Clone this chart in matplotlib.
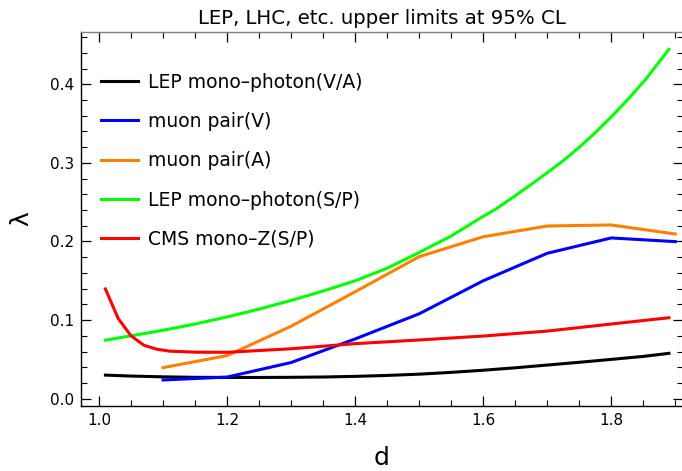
import numpy as np
import matplotlib
matplotlib.use("Agg")
import matplotlib.pyplot as plt
from matplotlib.ticker import MultipleLocator

# --- data ---
d_va = [1.01, 1.05, 1.1, 1.15, 1.2, 1.25, 1.3, 1.35, 1.4, 1.45,
        1.5, 1.55, 1.6, 1.65, 1.7, 1.75, 1.8, 1.85, 1.89]
lep_va = [0.0300, 0.0288, 0.0278, 0.0272, 0.0270, 0.0270, 0.0272, 0.0276, 0.0284, 0.0296,
          0.0312, 0.0335, 0.0362, 0.0393, 0.0428, 0.0463, 0.0500, 0.0538, 0.0577]

d_sp = [1.01, 1.05, 1.1, 1.15, 1.2, 1.25, 1.3, 1.35, 1.4, 1.45, 1.5, 1.55,
        1.595, 1.621, 1.647, 1.673, 1.699, 1.725, 1.751, 1.777, 1.803, 1.829, 1.855, 1.89]
lep_sp = [0.0745, 0.080, 0.087, 0.095, 0.104, 0.114, 0.125, 0.137, 0.150, 0.166, 0.186, 0.207,
          0.2295, 0.242, 0.2565, 0.2715, 0.2868, 0.3028, 0.3206, 0.340, 0.361, 0.3835, 0.4076, 0.4445]

d_muon = [1.1, 1.2, 1.3, 1.4, 1.5, 1.6, 1.7, 1.8, 1.9]
muon_v = [0.0238, 0.0275, 0.046, 0.076, 0.108, 0.150, 0.185, 0.2045, 0.1998]
muon_a = [0.0395, 0.0548, 0.0922, 0.136, 0.1807, 0.206, 0.2197, 0.221, 0.2095]

d_cms = [1.01, 1.03, 1.05, 1.07, 1.09, 1.11, 1.15, 1.2, 1.3, 1.4, 1.5, 1.6, 1.7, 1.8, 1.89]
cms_sp = [0.1396, 0.102, 0.080, 0.068, 0.063, 0.0605, 0.0592, 0.059, 0.0635, 0.070,
          0.0747, 0.0797, 0.086, 0.095, 0.103]

labels = ["LEP mono\u2013photon(V/A)", "muon pair(V)", "muon pair(A)",
          "LEP mono\u2013photon(S/P)", "CMS mono\u2013Z(S/P)"]
colors = ["black", "#0000ff", "#ff8000", "#00ff00", "#ff0000"]

fig = plt.figure(figsize=(6.82, 4.71), dpi=100)
ax = fig.add_axes([81 / 682, 1 - 406 / 471, 602 / 682, 374 / 471])

lw = 2.2
ax.plot(d_va, lep_va, color=colors[0], lw=lw, label=labels[0])
ax.plot(d_muon, muon_v, color=colors[1], lw=lw, label=labels[1])
ax.plot(d_muon, muon_a, color=colors[2], lw=lw, label=labels[2])
ax.plot(d_sp, lep_sp, color=colors[3], lw=lw, label=labels[3])
ax.plot(d_cms, cms_sp, color=colors[4], lw=lw, label=labels[4])

ax.set_xlim(0.9719, 1.912)
ax.set_ylim(-0.0093, 0.4665)

ax.xaxis.set_major_locator(MultipleLocator(0.2))
ax.xaxis.set_minor_locator(MultipleLocator(0.05))
ax.yaxis.set_major_locator(MultipleLocator(0.1))
ax.yaxis.set_minor_locator(MultipleLocator(0.02))
ax.xaxis.set_major_formatter(lambda x, pos: "%.1f" % x)
ax.yaxis.set_major_formatter(lambda y, pos: "%.1f" % y)

ax.tick_params(which="both", direction="in", top=True, right=True, labelsize=11, pad=5)
ax.tick_params(which="major", length=7, width=0.9)
ax.tick_params(which="minor", length=4.5, width=0.8)

ax.spines["top"].set_color("#808080")
ax.spines["right"].set_visible(False)
for s in ax.spines.values():
    s.set_linewidth(1.0)

ax.set_title("LEP, LHC, etc. upper limits at 95% CL", fontsize=14.2, pad=6)
ax.set_xlabel("d", fontsize=18, labelpad=13)
ax.set_ylabel("\u03bb", fontsize=18, labelpad=12)

ax.legend(loc="upper left", bbox_to_anchor=(0.034, 0.891), frameon=False, fontsize=13.5,
          handlelength=1.95, handletextpad=0.55, labelspacing=1.08, borderpad=0, borderaxespad=0)

fig.savefig("out.png", dpi=100)
